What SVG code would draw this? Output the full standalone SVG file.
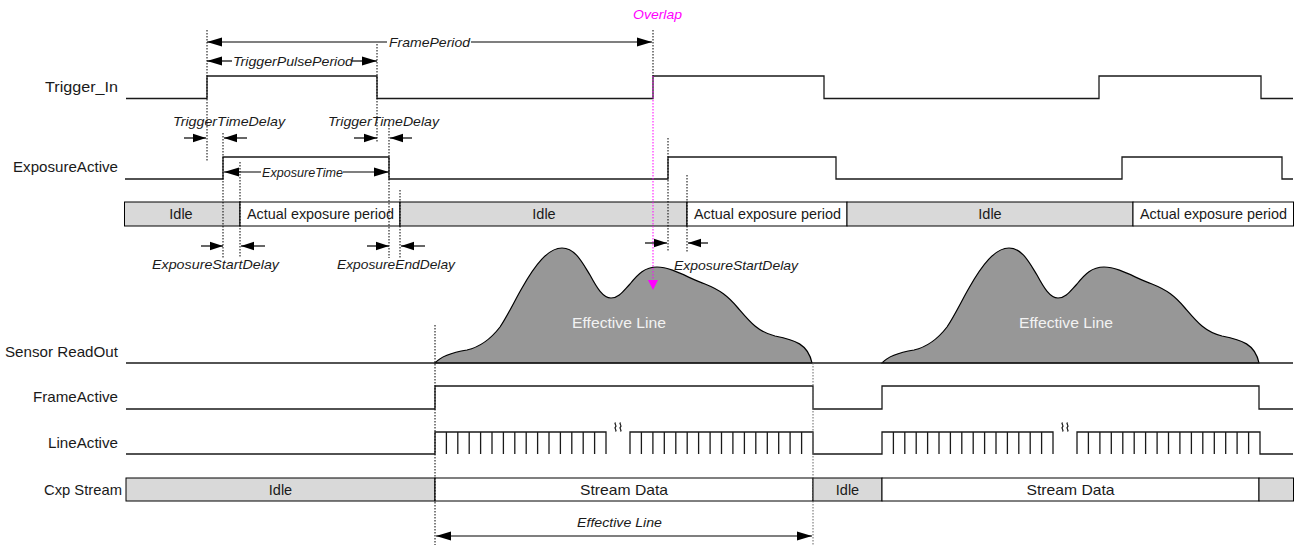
<svg xmlns="http://www.w3.org/2000/svg" width="1301" height="545" viewBox="0 0 1301 545">
<defs>
<style>
.sig{fill:none;stroke:#1a1a1a;stroke-width:1.3}
.dot{fill:none;stroke:#000;stroke-width:1;stroke-dasharray:1.5 1.5}
.mdot{fill:none;stroke:#ff00ff;stroke-width:1;stroke-dasharray:1.5 1.5}
.t{font-family:"Liberation Sans",Arial,sans-serif;font-size:14.5px;fill:#1a1a1a}
.it{font-family:"Liberation Sans",Arial,sans-serif;font-size:13.5px;font-style:italic;fill:#1a1a1a}
.idle{fill:#d9d9d9;stroke:#000;stroke-width:1}
.act{fill:#fff;stroke:#000;stroke-width:1}
.a{fill:none;stroke:#000;stroke-width:1.2;marker-end:url(#ah)}
.as{fill:none;stroke:#000;stroke-width:1.2;marker-end:url(#ahs)}
.hump{fill:#979797;stroke:#000;stroke-width:1.2}
</style>
<marker id="ah" markerUnits="userSpaceOnUse" markerWidth="15" markerHeight="10" refX="15" refY="5" orient="auto"><path d="M0,0.5 L15,5 L0,9.5 Z" fill="#000"/></marker>
<marker id="ahs" markerUnits="userSpaceOnUse" markerWidth="13" markerHeight="10" refX="13" refY="5" orient="auto"><path d="M0,0.8 L13,5 L0,9.2 Z" fill="#000"/></marker>
<path id="humpShape" d="M435,363 C442,355 455,352 467,350 C480,347 490,340 500,327 C508,315 515,300 522,288 C535,265 548,248 562,248 C575,248 582,262 590,275 C597,288 603,298 611,298 C619,298 624,290 630,284 C638,274 645,267 657,267 C672,267 690,279 705,284 C720,290 728,296 738,308 C750,322 758,332 775,336 C795,340 808,344 812,363 Z"/>
</defs>
<rect width="1301" height="545" fill="#fff"/>

<g id="labels">
<text class="t" x="45" y="92" textLength="73" lengthAdjust="spacingAndGlyphs">Trigger_In</text>
<text class="t" x="13" y="172" textLength="105" lengthAdjust="spacingAndGlyphs">ExposureActive</text>
<text class="t" x="5" y="357" textLength="113" lengthAdjust="spacingAndGlyphs">Sensor ReadOut</text>
<text class="t" x="33" y="402" textLength="85" lengthAdjust="spacingAndGlyphs">FrameActive</text>
<text class="t" x="48" y="448" textLength="70" lengthAdjust="spacingAndGlyphs">LineActive</text>
<text class="t" x="44" y="495" textLength="78" lengthAdjust="spacingAndGlyphs">Cxp Stream</text>
</g>

<g id="sensor-readout">
<use href="#humpShape" class="hump"/>
<use href="#humpShape" class="hump" transform="translate(447,0)"/>
<line class="sig" x1="126" y1="363" x2="1293" y2="363"/>
<text class="t" x="619" y="328" text-anchor="middle" style="fill:#f2f2f2" textLength="94" lengthAdjust="spacingAndGlyphs">Effective Line</text>
<text class="t" x="1066" y="328" text-anchor="middle" style="fill:#f2f2f2" textLength="94" lengthAdjust="spacingAndGlyphs">Effective Line</text>
</g>

<g id="trigger-in">
<path class="sig" d="M126,98.5 H207 V76 H377 V98.5 H653 V76 H824 V98.5 H1099 V76 H1261 V98.5 H1293"/>
</g>

<g id="exposure-active">
<path class="sig" d="M125,179 H223 V157 H389 V179 H668 V157 H836 V179 H1122 V157 H1282 V179 H1293"/>
</g>

<g id="exposure-state">
<rect class="idle" x="124.5" y="202" width="115.5" height="24"/>
<rect class="act" x="240" y="202" width="160" height="24"/>
<rect class="idle" x="400" y="202" width="287" height="24"/>
<rect class="act" x="687" y="202" width="160" height="24"/>
<rect class="idle" x="847" y="202" width="286" height="24"/>
<rect class="act" x="1133" y="202" width="160.5" height="24"/>
<text class="t" x="181" y="219" text-anchor="middle">Idle</text>
<text class="t" x="320.5" y="219" text-anchor="middle" textLength="147" lengthAdjust="spacingAndGlyphs">Actual exposure period</text>
<text class="t" x="544" y="219" text-anchor="middle">Idle</text>
<text class="t" x="767.5" y="219" text-anchor="middle" textLength="147" lengthAdjust="spacingAndGlyphs">Actual exposure period</text>
<text class="t" x="990" y="219" text-anchor="middle">Idle</text>
<text class="t" x="1213.5" y="219" text-anchor="middle" textLength="147" lengthAdjust="spacingAndGlyphs">Actual exposure period</text>
</g>

<g id="frame-active">
<path class="sig" d="M126,409 H435 V386 H813 V409 H882 V386 H1259 V409 H1293"/>
</g>

<g id="line-active">
<path class="sig" d="M126,454 H435 V432 H606 V454 M630,454 V432 H813 V454 H882 V432 H1053 V454 M1077,454 V432 H1260 V454 H1293"/>
<path class="sig" stroke-width="1" d="M446.4,432V454 M457.8,432V454 M469.2,432V454 M480.6,432V454 M492,432V454 M503.4,432V454 M514.8,432V454 M526.2,432V454 M537.6,432V454 M549,432V454 M560.4,432V454 M571.8,432V454 M583.2,432V454 M594.6,432V454
M641.4,432V454 M652.9,432V454 M664.3,432V454 M675.8,432V454 M687.2,432V454 M698.6,432V454 M710.1,432V454 M721.5,432V454 M732.9,432V454 M744.4,432V454 M755.8,432V454 M767.3,432V454 M778.7,432V454 M790.1,432V454 M801.6,432V454
M893.4,432V454 M904.8,432V454 M916.2,432V454 M927.6,432V454 M939,432V454 M950.4,432V454 M961.8,432V454 M973.2,432V454 M984.6,432V454 M996,432V454 M1007.4,432V454 M1018.8,432V454 M1030.2,432V454 M1041.6,432V454
M1088.4,432V454 M1099.9,432V454 M1111.3,432V454 M1122.8,432V454 M1134.2,432V454 M1145.6,432V454 M1157.1,432V454 M1168.5,432V454 M1179.9,432V454 M1191.4,432V454 M1202.8,432V454 M1214.3,432V454 M1225.7,432V454 M1237.1,432V454 M1248.6,432V454"/>
<path class="sig" stroke-width="1.2" d="M615.5,422.5 c-2,1.5 2,3 0,4.5 c-2,1.5 2,3 0,4.5 M620.5,422.5 c-2,1.5 2,3 0,4.5 c-2,1.5 2,3 0,4.5"/>
<path class="sig" stroke-width="1.2" d="M1062.5,422.5 c-2,1.5 2,3 0,4.5 c-2,1.5 2,3 0,4.5 M1067.5,422.5 c-2,1.5 2,3 0,4.5 c-2,1.5 2,3 0,4.5"/>
</g>

<g id="cxp-stream">
<rect class="idle" x="126" y="478" width="309" height="23"/>
<rect class="act" x="435" y="478" width="378" height="23"/>
<rect class="idle" x="813" y="478" width="69" height="23"/>
<rect class="act" x="882" y="478" width="377" height="23"/>
<rect class="idle" x="1259" y="478" width="34.5" height="23"/>
<text class="t" x="280.5" y="495" text-anchor="middle">Idle</text>
<text class="t" x="624" y="495" text-anchor="middle" textLength="88" lengthAdjust="spacingAndGlyphs">Stream Data</text>
<text class="t" x="847.5" y="495" text-anchor="middle">Idle</text>
<text class="t" x="1070.5" y="495" text-anchor="middle" textLength="88" lengthAdjust="spacingAndGlyphs">Stream Data</text>
</g>

<g id="connectors">
<path class="dot" d="M207,30 V161 M377,44 V142 M223,133 V258 M240,162 V258 M389,125 V258 M400,190 V258 M653,30 V76 M668,138 V252 M687,175 V253 M435,325 V545"/>
<path class="dot" style="stroke:#666" d="M813,363 V545"/>
<line class="mdot" x1="653" y1="76" x2="653" y2="282"/>
<polygon points="648,280 658,280 653,290" fill="#ff00ff"/>
<text class="it" x="633" y="19" style="fill:#ff00ff" textLength="49" lengthAdjust="spacingAndGlyphs">Overlap</text>

<line class="a" x1="387" y1="42" x2="207" y2="42"/>
<line class="a" x1="471" y1="42" x2="652" y2="42"/>
<text class="it" x="389" y="46.5" textLength="81" lengthAdjust="spacingAndGlyphs">FramePeriod</text>

<line class="a" x1="232" y1="61" x2="207" y2="61"/>
<line class="a" x1="352" y1="61" x2="377" y2="61"/>
<text class="it" x="233" y="65.5" textLength="120" lengthAdjust="spacingAndGlyphs">TriggerPulsePeriod</text>

<text class="it" x="173" y="126" textLength="112" lengthAdjust="spacingAndGlyphs">TriggerTimeDelay</text>
<text class="it" x="328" y="126" textLength="111" lengthAdjust="spacingAndGlyphs">TriggerTimeDelay</text>
<line class="as" x1="184" y1="138" x2="206" y2="138"/>
<line class="as" x1="247" y1="138" x2="224" y2="138"/>
<line class="as" x1="354" y1="138" x2="377" y2="138"/>
<line class="as" x1="412" y1="138" x2="390" y2="138"/>

<line class="a" x1="261" y1="172" x2="224" y2="172"/>
<line class="a" x1="343" y1="172" x2="389" y2="172"/>
<text class="it" x="262" y="176.5" textLength="81" lengthAdjust="spacingAndGlyphs">ExposureTime</text>

<line class="as" x1="201" y1="246" x2="223" y2="246"/>
<line class="as" x1="265" y1="246" x2="241" y2="246"/>
<line class="as" x1="367" y1="246" x2="389" y2="246"/>
<line class="as" x1="425" y1="246" x2="401" y2="246"/>
<line class="as" x1="645" y1="243" x2="667" y2="243"/>
<line class="as" x1="708" y1="243" x2="688" y2="243"/>
<text class="it" x="152" y="269" textLength="127" lengthAdjust="spacingAndGlyphs">ExposureStartDelay</text>
<text class="it" x="337" y="269" textLength="118" lengthAdjust="spacingAndGlyphs">ExposureEndDelay</text>
<text class="it" x="674" y="270" textLength="124" lengthAdjust="spacingAndGlyphs">ExposureStartDelay</text>

<line class="a" x1="600" y1="536" x2="436" y2="536"/>
<line class="a" x1="600" y1="536" x2="812" y2="536"/>
<text class="it" x="577" y="527" textLength="85" lengthAdjust="spacingAndGlyphs">Effective Line</text>
</g>
</svg>
